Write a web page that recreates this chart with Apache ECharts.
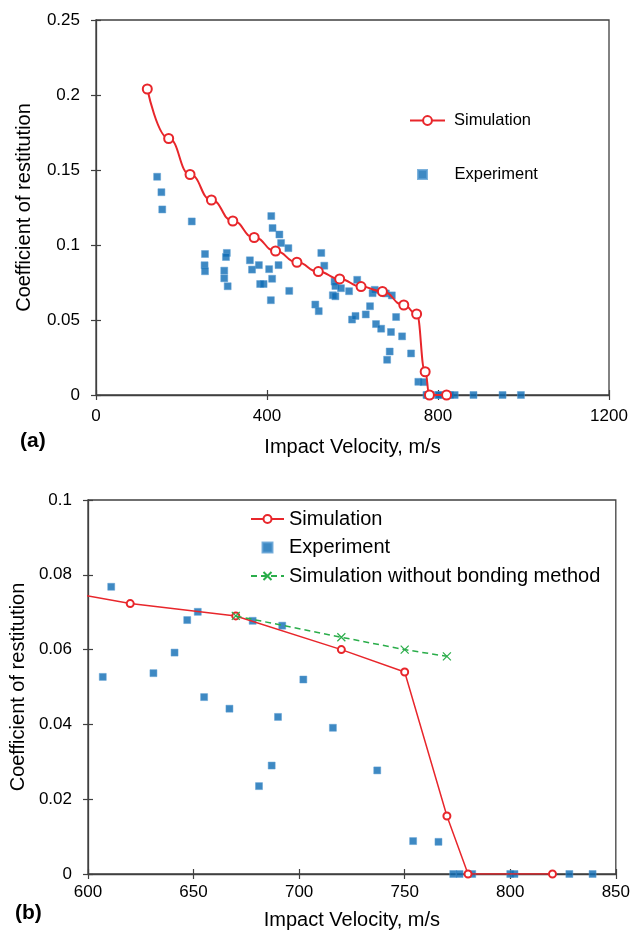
<!DOCTYPE html>
<html>
<head>
<meta charset="utf-8">
<script src="https://cdn.jsdelivr.net/npm/echarts@6/dist/echarts.min.js"></script>
<style>
  html, body { margin: 0; background: #fff; }
  #chart { width: 633px; height: 931px; }
</style>
</head>
<body>
<div id="chart"></div>
<script>
// simulation (with bonding method)
const simV = [120, 170, 220, 270, 320, 370, 420, 470, 520, 570, 620, 670, 720, 750, 770, 780, 820];
const simC = [0.204, 0.171, 0.147, 0.130, 0.116, 0.105, 0.096, 0.0885, 0.0823, 0.0774, 0.0723, 0.069, 0.060, 0.054, 0.0155, 0, 0];

// simulation without bonding method (only panel b)
const noBondV = [670, 720, 750, 770];
const noBondC = [0.069, 0.0633, 0.060, 0.0582];

// experiment
const expV = [143, 153, 155, 224, 255, 254, 255, 306, 304, 300, 300, 308, 360, 365, 381, 384, 392,
  405, 412, 409, 410, 413, 429, 433, 450, 427, 452, 513, 521, 527, 534, 558, 560, 573, 554, 560,
  592, 599, 607, 611, 631, 641, 647, 652, 655, 667, 678, 681, 687, 690, 692, 702, 716, 737, 754,
  766, 773, 776, 782, 800, 802, 828, 839, 883, 951, 994];
const expC = [0.1455, 0.1352, 0.1237, 0.1157, 0.094, 0.0865, 0.0825, 0.0947, 0.092, 0.0829, 0.0778, 0.0725, 0.0898, 0.0836, 0.0866, 0.074, 0.074,
  0.0839, 0.0775, 0.0632, 0.1193, 0.1113, 0.107, 0.1013, 0.0979, 0.0866, 0.0694, 0.0603, 0.0559, 0.0947, 0.0862, 0.0756, 0.0727, 0.0712, 0.0665, 0.0658,
  0.0692, 0.0503, 0.0527, 0.0768, 0.0537, 0.0592, 0.0679, 0.0701, 0.0473, 0.0442, 0.0677, 0.0235, 0.029, 0.042, 0.0664, 0.052, 0.0391, 0.0277, 0.0088,
  0.0086, 0, 0, 0, 0, 0, 0, 0, 0, 0, 0];

const pairs = (xs, ys) => xs.map((x, i) => [x, ys[i]]);

const FONT = 'Liberation Sans, Arial, sans-serif';
const AX = '#404040';
const RED = '#e8262b';
const BLUE = '#0e6bb4';
const GREEN = '#2aad4a';
const CROSS = 'path://M0,0L10,10M10,0L0,10';
const SQUARE = 'path://M0,0H10V10H0Z';

// main axis: line + labels + inner half of the cross tick
function mainAxis(o, fs, margin) {
  return Object.assign({
    type: 'value',
    axisLine: { show: true, lineStyle: { color: AX, width: 1.3 } },
    axisTick: { show: true, inside: true, length: 5, lineStyle: { color: AX, width: 1.2 } },
    splitLine: { show: false },
    axisLabel: { color: '#000', fontSize: fs, fontFamily: FONT, margin: margin, formatter: v => String(v) },
    nameLocation: 'middle',
    nameTextStyle: { color: '#000', fontSize: 20, fontFamily: FONT }
  }, o);
}
// ghost axis: only the outer half of the cross tick
function ghostAxis(o) {
  return Object.assign({
    type: 'value',
    axisLine: { show: false },
    axisTick: { show: true, inside: false, length: 5, lineStyle: { color: AX, width: 1.2 } },
    axisLabel: { show: false },
    splitLine: { show: false }
  }, o);
}

const topX = { gridIndex: 0, min: 0, max: 1200, interval: 400, position: 'bottom' };
const topY = { gridIndex: 0, min: 0, max: 0.25, interval: 0.05, position: 'left' };
const botX = { gridIndex: 1, min: 600, max: 850, interval: 50, position: 'bottom' };
const botY = { gridIndex: 1, min: 0, max: 0.1, interval: 0.02, position: 'left' };

const legendText = { fontSize: 17, fontFamily: FONT, color: '#000', padding: [0, 0, 0, 4] };

const chart = echarts.init(document.getElementById('chart'));
chart.setOption({
  animation: false,
  backgroundColor: '#fff',
  title: [
    { text: '(a)', left: 15, top: 426, textStyle: { fontSize: 21, fontWeight: 'bold', fontFamily: FONT, color: '#000' } },
    { text: '(b)', left: 10, top: 898, textStyle: { fontSize: 21, fontWeight: 'bold', fontFamily: FONT, color: '#000' } }
  ],
  grid: [
    { left: 96, right: 24, top: 20, height: 375, show: true, borderColor: AX, borderWidth: 1.3, backgroundColor: 'transparent' },
    { left: 87, right: 17, top: 500, height: 374, show: true, borderColor: AX, borderWidth: 1.3, backgroundColor: 'transparent' }
  ],
  xAxis: [
    mainAxis(Object.assign({ name: 'Impact Velocity, m/s', nameGap: 42 }, topX), 17, 13),
    ghostAxis(topX),
    mainAxis(Object.assign({ name: 'Impact Velocity, m/s', nameGap: 36 }, botX), 17, 10),
    ghostAxis(botX)
  ],
  yAxis: [
    mainAxis(Object.assign({ name: 'Coefficient of restitution', nameGap: 62 }, topY), 17, 16),
    ghostAxis(topY),
    mainAxis(Object.assign({ name: 'Coefficient of restitution', nameGap: 58 }, botY), 17, 16),
    ghostAxis(botY)
  ],
  legend: [
    { data: ['Simulation'], left: 404, top: 107, itemWidth: 35, itemHeight: 11, itemGap: 0,
      textStyle: Object.assign({}, legendText, { fontSize: 16.5 }) },
    { data: ['Experiment'], left: 412, top: 161, itemWidth: 54, itemHeight: 9, itemGap: 0,
      textStyle: Object.assign({}, legendText, { fontSize: 16.5, padding: 0 }) },
    { data: ['Simulation (b)', 'Experiment (b)', 'Simulation without bonding method'],
      orient: 'vertical', left: 245, top: 504, itemWidth: 33, itemHeight: 10, itemGap: 8.5,
      formatter: n => n.replace(' (b)', ''),
      textStyle: Object.assign({}, legendText, { fontSize: 20, padding: 0 }) }
  ],
  series: [
    {
      name: 'Simulation', type: 'line', xAxisIndex: 0, yAxisIndex: 0,
      data: pairs(simV, simC), smooth: 0.5, smoothMonotone: 'x',
      symbol: 'emptyCircle', symbolSize: 9,
      lineStyle: { color: RED, width: 2 }, itemStyle: { color: RED, borderWidth: 1.3 }, z: 3
    },
    {
      name: 'Experiment', type: 'scatter', xAxisIndex: 0, yAxisIndex: 0,
      data: pairs(expV, expC), symbol: SQUARE, symbolSize: 7,
      itemStyle: { color: BLUE, borderColor: '#5d9fd3', borderWidth: 0.6 }, z: 2
    },
    {
      name: 'Simulation (b)', type: 'line', xAxisIndex: 2, yAxisIndex: 2,
      data: pairs(simV, simC), symbol: 'emptyCircle', symbolSize: 7,
      lineStyle: { color: RED, width: 1.5 }, itemStyle: { color: RED, borderWidth: 1.3 }, z: 3
    },
    {
      name: 'Experiment (b)', type: 'scatter', xAxisIndex: 2, yAxisIndex: 2,
      data: pairs(expV, expC), symbol: SQUARE, symbolSize: 7,
      itemStyle: { color: BLUE, borderColor: '#5d9fd3', borderWidth: 0.6 }, z: 2
    },
    {
      name: 'Simulation without bonding method', type: 'line', xAxisIndex: 2, yAxisIndex: 2,
      data: pairs(noBondV, noBondC), symbol: CROSS, symbolSize: 8,
      lineStyle: { color: GREEN, width: 1.5, type: [6, 4] },
      itemStyle: { color: GREEN, borderColor: GREEN, borderWidth: 1.2 }, z: 4
    }
  ]
});
</script>
</body>
</html>
